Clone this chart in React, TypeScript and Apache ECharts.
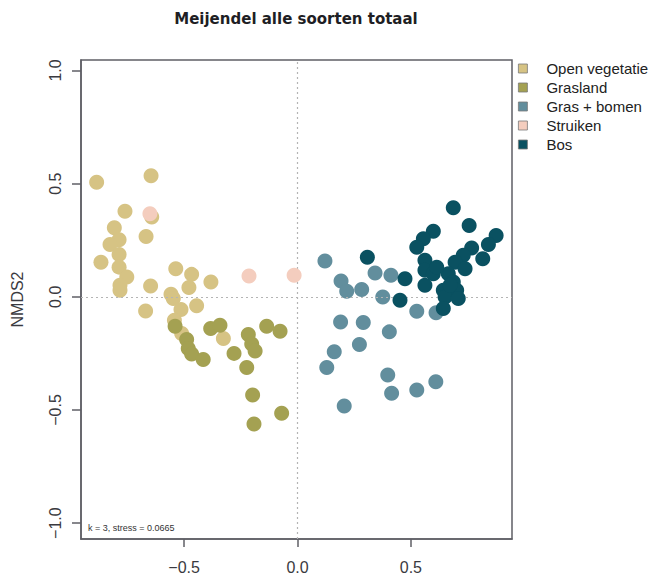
import React, { useEffect, useRef } from "react";
import * as echarts from "echarts";

const title = "Meijendel alle soorten totaal";
const yAxisName = "NMDS2";
const stressNote = "k = 3, stress = 0.0665";

const groupNames = ["Open vegetatie", "Grasland", "Gras + bomen", "Struiken", "Bos"];
const groupColors = ["#D6C384", "#A4A152", "#628E9D", "#F4CDBE", "#0A5161"];

const xTicks = [-0.5, 0, 0.5];
const yTicks = [-1, -0.5, 0, 0.5, 1];

const openVegetatie = [
  [-0.886, 0.506], [-0.646, 0.535], [-0.761, 0.378], [-0.643, 0.352], [-0.808, 0.305],
  [-0.787, 0.252], [-0.827, 0.231], [-0.668, 0.266], [-0.787, 0.187], [-0.867, 0.153],
  [-0.787, 0.131], [-0.753, 0.087], [-0.783, 0.051], [-0.783, 0.029], [-0.648, 0.048],
  [-0.537, 0.124], [-0.467, 0.099], [-0.479, 0.041], [-0.382, 0.065], [-0.558, 0.011],
  [-0.548, -0.008], [-0.514, -0.056], [-0.445, -0.040], [-0.670, -0.063], [-0.543, -0.104],
  [-0.511, -0.162], [-0.327, -0.184],
];

const grasland = [
  [-0.540, -0.130], [-0.489, -0.189], [-0.482, -0.228], [-0.467, -0.253], [-0.416, -0.277],
  [-0.383, -0.140], [-0.342, -0.126], [-0.280, -0.250], [-0.217, -0.167], [-0.202, -0.209],
  [-0.187, -0.239], [-0.224, -0.312], [-0.136, -0.130], [-0.077, -0.152], [-0.198, -0.434],
  [-0.192, -0.562], [-0.070, -0.515],
];

const grasBomen = [
  [0.121, 0.158], [0.192, 0.070], [0.217, 0.024], [0.283, 0.032], [0.342, 0.105],
  [0.412, 0.095], [0.376, -0.001], [0.526, -0.064], [0.611, -0.071], [0.190, -0.111],
  [0.290, -0.114], [0.405, -0.155], [0.273, -0.211], [0.162, -0.243], [0.129, -0.312],
  [0.398, -0.346], [0.415, -0.426], [0.526, -0.412], [0.610, -0.375], [0.206, -0.482],
];

const struiken = [
  [-0.651, 0.367], [-0.214, 0.092], [-0.015, 0.095],
];

const bos = [
  [0.687, 0.393], [0.757, 0.315], [0.599, 0.290], [0.555, 0.256], [0.526, 0.219],
  [0.876, 0.271], [0.842, 0.231], [0.768, 0.216], [0.817, 0.168], [0.731, 0.183],
  [0.695, 0.153], [0.739, 0.124], [0.562, 0.161], [0.562, 0.117], [0.599, 0.102],
  [0.665, 0.102], [0.687, 0.065], [0.702, 0.029], [0.562, 0.051], [0.643, 0.029],
  [0.651, -0.001], [0.709, -0.008], [0.643, -0.052], [0.474, 0.080], [0.452, -0.015],
  [0.308, 0.175], [0.614, 0.131], [0.673, 0.051],
];

const groupData = [openVegetatie, grasland, grasBomen, struiken, bos];

const fmt = (v: number) => {
  const s = Math.abs(v).toFixed(1);
  return v < 0 ? "\u2212" + s : s;
};

const AXIS_COLOR = "#5f5f66";
const FONT = "Liberation Sans, Arial, Helvetica, sans-serif";

export default function App() {
  const ref = useRef<HTMLDivElement>(null);

  useEffect(() => {
    if (!ref.current) return;
    const chart = echarts.init(ref.current, null, { renderer: "svg" });

    const series: any[] = [
      {
        name: "__zero",
        type: "scatter",
        data: [],
        z: 1,
        silent: true,
        markLine: {
          silent: true,
          symbol: ["none", "none"],
          label: { show: false },
          lineStyle: { type: [2, 3], color: "#b4b4b4", width: 1.2 },
          data: [{ xAxis: 0 }, { yAxis: 0 }],
          animation: false,
        },
      },
    ];
    groupNames.forEach((name, i) => {
      series.push({
        name,
        type: "scatter",
        data: groupData[i],
        symbol: "circle",
        symbolSize: 15,
        z: 2 + i,
        itemStyle: { color: groupColors[i], opacity: 1 },
      });
    });

    chart.setOption({
      animation: false,
      textStyle: { fontFamily: FONT },
      title: {
        text: title,
        left: 296,
        top: 11,
        padding: 0,
        textAlign: "center",
        textStyle: {
          fontFamily: "DejaVu Sans",
          fontWeight: "bold",
          fontSize: 15,
          color: "#1e1e24",
        },
      },
      legend: {
        data: groupNames,
        orient: "vertical",
        left: 518,
        top: 61,
        padding: 0,
        itemWidth: 9,
        itemHeight: 9,
        itemGap: 4,
        icon: "rect",
        itemStyle: { borderColor: "#7a7a7a", borderWidth: 0.8 },
        formatter: "{s|}{name}",
        textStyle: {
          fontFamily: FONT,
          fontSize: 15,
          lineHeight: 15,
          color: "#222",
          rich: { s: { width: 14, lineHeight: 15 } },
        },
        selectedMode: false,
      },
      grid: {
        left: 81,
        top: 60,
        width: 431,
        height: 479,
        show: true,
        borderColor: AXIS_COLOR,
        borderWidth: 1.5,
        outerBoundsMode: "none",
        containLabel: false,
      },
      xAxis: {
        type: "value",
        min: -0.955,
        max: 0.946,
        axisLine: { show: true, onZero: false, lineStyle: { color: AXIS_COLOR, width: 1.5 } },
        axisTick: { show: true, length: 8, customValues: xTicks, lineStyle: { color: AXIS_COLOR, width: 1.5 } },
        axisLabel: {
          customValues: xTicks,
          formatter: (v: number) => fmt(v),
          margin: 20,
          fontSize: 16,
          fontFamily: FONT,
          color: "#3a3a40",
        },
        splitLine: { show: false },
      },
      yAxis: {
        type: "value",
        min: -1.07,
        max: 1.046,
        name: yAxisName,
        nameLocation: "middle",
        nameRotate: 90,
        nameGap: 56,
        nameTextStyle: { fontSize: 16, fontFamily: FONT, color: "#3a3a40" },
        axisLine: { show: true, onZero: false, lineStyle: { color: AXIS_COLOR, width: 1.5 } },
        axisTick: { show: true, length: 9, customValues: yTicks, lineStyle: { color: AXIS_COLOR, width: 1.5 } },
        axisLabel: {
          customValues: yTicks,
          formatter: (v: number) => fmt(v),
          rotate: 90,
          margin: 18,
          fontSize: 16,
          fontFamily: FONT,
          color: "#3a3a40",
        },
        splitLine: { show: false },
      },
      graphic: [
        {
          type: "text",
          left: 88,
          top: 523,
          silent: true,
          style: {
            text: stressNote,
            fontSize: 9,
            fontFamily: FONT,
            fill: "#333",
          },
        },
      ],
      series,
    });

    return () => chart.dispose();
  }, []);

  return (
    <div
      ref={ref}
      style={{ position: "fixed", left: 0, top: 0, width: 651, height: 574, background: "#fff" }}
    />
  );
}
